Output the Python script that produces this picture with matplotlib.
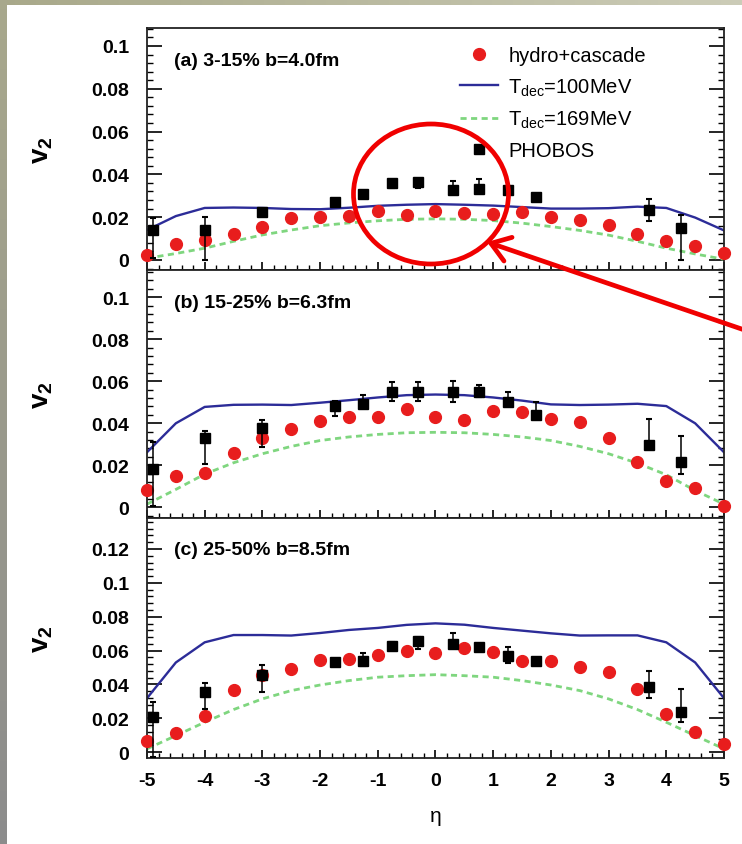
import numpy as np
import matplotlib
matplotlib.use('Agg')
import matplotlib.pyplot as plt
from matplotlib.patches import Ellipse, FancyArrowPatch
from matplotlib.lines import Line2D
from matplotlib.ticker import MultipleLocator, AutoMinorLocator, FuncFormatter

plt.rcParams['font.family'] = ['Liberation Sans', 'DejaVu Sans']
plt.rcParams['axes.unicode_minus'] = False
plt.rcParams['mathtext.fontset'] = 'custom'
plt.rcParams['mathtext.rm'] = 'Liberation Sans'
plt.rcParams['mathtext.bf'] = 'Liberation Sans:bold'
plt.rcParams['mathtext.it'] = 'Liberation Sans:italic'

# model curves, eta grid
eta = [-5, -4.5, -4, -3.5, -3, -2.5, -2, -1.5, -1, -0.5, 0,
       0.5, 1, 1.5, 2, 2.5, 3, 3.5, 4, 4.5, 5]

hydro_a = [0.0023, 0.0073, 0.0094, 0.0120, 0.0152, 0.0198, 0.0200, 0.0206, 0.0227, 0.0211, 0.0227,
           0.0219, 0.0214, 0.0223, 0.0200, 0.0188, 0.0164, 0.0122, 0.0089, 0.0063, 0.0031]
t100_a = [0.0140, 0.0205, 0.0243, 0.0245, 0.0243, 0.0238, 0.0237, 0.0244, 0.0253, 0.0258, 0.0261,
          0.0258, 0.0254, 0.0247, 0.0240, 0.0240, 0.0242, 0.0249, 0.0243, 0.0198, 0.0138]
t169_a = [0.0008, 0.0030, 0.0055, 0.0087, 0.0117, 0.0140, 0.0160, 0.0173, 0.0183, 0.0190, 0.0192,
          0.0190, 0.0184, 0.0172, 0.0156, 0.0138, 0.0116, 0.0087, 0.0055, 0.0028, 0.0003]

hydro_b = [0.0083, 0.0151, 0.0163, 0.0259, 0.0329, 0.0373, 0.0413, 0.0432, 0.0432, 0.0468, 0.0429,
           0.0417, 0.0460, 0.0452, 0.0421, 0.0405, 0.0329, 0.0217, 0.0127, 0.0090, 0.0008]
t100_b = [0.0262, 0.0400, 0.0478, 0.0488, 0.0489, 0.0487, 0.0498, 0.0510, 0.0523, 0.0534, 0.0537,
          0.0534, 0.0523, 0.0508, 0.0490, 0.0487, 0.0489, 0.0493, 0.0482, 0.0400, 0.0262]
t169_b = [0.0015, 0.0085, 0.0158, 0.0212, 0.0255, 0.0290, 0.0318, 0.0335, 0.0347, 0.0355, 0.0357,
          0.0355, 0.0347, 0.0335, 0.0318, 0.0290, 0.0255, 0.0210, 0.0155, 0.0080, 0.0015]

hydro_c = [0.0065, 0.0114, 0.0212, 0.0370, 0.0456, 0.0492, 0.0545, 0.0551, 0.0574, 0.0600, 0.0586,
           0.0614, 0.0590, 0.0541, 0.0537, 0.0506, 0.0472, 0.0374, 0.0226, 0.0122, 0.0049]
t100_c = [0.0319, 0.0530, 0.0649, 0.0692, 0.0692, 0.0689, 0.0704, 0.0722, 0.0734, 0.0752, 0.0761,
          0.0753, 0.0734, 0.0718, 0.0702, 0.0689, 0.0690, 0.0690, 0.0649, 0.0530, 0.0319]
t169_c = [0.0020, 0.0098, 0.0177, 0.0252, 0.0315, 0.0364, 0.0397, 0.0423, 0.0443, 0.0452, 0.0458,
          0.0452, 0.0443, 0.0423, 0.0397, 0.0364, 0.0315, 0.0252, 0.0177, 0.0098, 0.0020]

# PHOBOS data
eta_ph = [-4.9, -4.0, -3.0, -1.75, -1.25, -0.75, -0.3, 0.3, 0.75, 1.25, 1.75, 3.7, 4.25]

ph_a = [0.0141, 0.0141, 0.0225, 0.0272, 0.0310, 0.0360, 0.0363, 0.0325, 0.0333, 0.0325, 0.0294, 0.0234, 0.0148]
ph_a_lo = [0.0133, 0.0141, 0.0015, 0.0010, 0.0010, 0.0025, 0.0025, 0.0010, 0.0010, 0.0010, 0.0010, 0.0050, 0.0148]
ph_a_hi = [0.0054, 0.0062, 0.0015, 0.0010, 0.0010, 0.0010, 0.0010, 0.0045, 0.0045, 0.0020, 0.0015, 0.0053, 0.0060]

ph_b = [0.0183, 0.0329, 0.0376, 0.0481, 0.0492, 0.0548, 0.0548, 0.0548, 0.0551, 0.0503, 0.0441, 0.0298, 0.0214]
ph_b_lo = [0.0175, 0.0123, 0.0090, 0.0044, 0.0020, 0.0043, 0.0043, 0.0048, 0.0025, 0.0018, 0.0004, 0.0012, 0.0055]
ph_b_hi = [0.0127, 0.0036, 0.0041, 0.0027, 0.0043, 0.0047, 0.0047, 0.0055, 0.0030, 0.0048, 0.0062, 0.0122, 0.0127]

ph_c = [0.0207, 0.0358, 0.0456, 0.0531, 0.0541, 0.0626, 0.0659, 0.0639, 0.0620, 0.0571, 0.0537, 0.0384, 0.0240]
ph_c_lo = [0.0237, 0.0102, 0.0098, 0.0010, 0.0030, 0.0025, 0.0050, 0.0015, 0.0010, 0.0045, 0.0010, 0.0065, 0.0063]
ph_c_hi = [0.0090, 0.0052, 0.0059, 0.0010, 0.0045, 0.0025, 0.0020, 0.0065, 0.0010, 0.0050, 0.0010, 0.0098, 0.0134]

titles = ['(a) 3-15% b=4.0fm', '(b) 15-25% b=6.3fm', '(c) 25-50% b=8.5fm']
labels = ['hydro+cascade', r'T$_{\rm dec}$=100MeV', r'T$_{\rm dec}$=169MeV', 'PHOBOS']

RED = '#e81d1d'
BLUE = '#2c2c98'
GREEN = '#7fd67f'
DASH = (0, (2.2, 1.6))

W, H = 742, 845
fig = plt.figure(figsize=(W / 100, H / 100), dpi=100)

# slide background: white with grey/olive edges
bg = fig.add_axes([0, 0, 1, 1], zorder=-10)
img = np.ones((H, W, 3))
top = np.linspace(0, 1, W)[:, None]
img[:6, :, :] = (np.array([0.66, 0.66, 0.54]) * (1 - top) + np.array([0.80, 0.80, 0.72]) * top)[None, :, :]
side = np.linspace(0, 1, H)[:, None]
img[:, :7, :] = (np.array([0.66, 0.66, 0.55]) * (1 - side) + np.array([0.55, 0.55, 0.55]) * side)[:, None, :]
bg.imshow(img, aspect='auto', extent=(0, W, H, 0))
bg.axis('off')

# axes boxes in pixels: left, right, top, bottom
left, right = 147, 724
rows = [(29, 271), (271, 519), (519, 759)]
ylims = [(-0.0047, 0.1084), (-0.0051, 0.1130), (-0.0034, 0.1383)]

hydro = [hydro_a, hydro_b, hydro_c]
t100 = [t100_a, t100_b, t100_c]
t169 = [t169_a, t169_b, t169_c]
phob = [(ph_a, ph_a_lo, ph_a_hi), (ph_b, ph_b_lo, ph_b_hi), (ph_c, ph_c_lo, ph_c_hi)]


def fmt(v, pos):
    if abs(v) < 1e-9:
        return '0'
    return f'{v:g}'


axes = []
for i, (t, b) in enumerate(rows):
    ax = fig.add_axes([left / W, 1 - b / H, (right - left) / W, (b - t) / H])
    axes.append(ax)
    ax.set_xlim(-5, 5)
    ax.set_ylim(*ylims[i])

    ax.plot(eta, t100[i], color=BLUE, lw=1.7, zorder=2)
    ax.plot(eta, t169[i], color=GREEN, lw=2.0, ls=DASH, zorder=2)
    ax.plot(eta, hydro[i], 'o', color=RED, ms=8.5, mec=RED, zorder=3, clip_on=False)
    v, lo, hi = phob[i]
    ax.errorbar(eta_ph, v, yerr=[lo, hi], fmt='s', color='black', ms=7, elinewidth=1.1,
                capsize=2.5, capthick=1.5, zorder=4)

    ax.text(0.047, 1 - 32 / (b - t), titles[i], transform=ax.transAxes, fontsize=14,
            fontweight='bold', va='center', ha='left')

    ax.xaxis.set_major_locator(MultipleLocator(1))
    ax.xaxis.set_minor_locator(AutoMinorLocator(5))
    ax.yaxis.set_major_locator(MultipleLocator(0.02))
    ax.yaxis.set_minor_locator(AutoMinorLocator(5))
    ax.yaxis.set_major_formatter(FuncFormatter(fmt))
    ax.xaxis.set_major_formatter(FuncFormatter(fmt))
    ax.tick_params(axis='y', which='major', direction='in', length=11, width=1.2,
                   left=True, right=True, pad=13, labelsize=14)
    ax.tick_params(axis='y', which='minor', direction='in', length=4.5, width=1,
                   left=True, right=True)
    ax.tick_params(axis='x', which='major', direction='in', length=6, width=1.2,
                   top=False, pad=10, labelsize=14)
    ax.tick_params(axis='x', which='minor', direction='in', length=3.5, width=1, top=False)
    for lab in ax.get_xticklabels() + ax.get_yticklabels():
        lab.set_fontweight('bold')
    if i < 2:
        ax.tick_params(axis='x', labelbottom=False)
    for s in ax.spines.values():
        s.set_linewidth(1.3)
        s.set_color('#222222')

    ax.set_ylabel(r'$\mathbf{v_2}$', fontsize=20, rotation=90)
    ax.yaxis.set_label_coords(-0.16, 0.5)

axes[2].set_xlabel('η', fontsize=15)
axes[2].xaxis.labelpad = 12

handles = [Line2D([], [], marker='o', ls='none', color=RED, ms=8.5),
           Line2D([], [], color=BLUE, lw=1.7),
           Line2D([], [], color=GREEN, lw=2.0, ls=DASH),
           Line2D([], [], marker='s', ls='none', color='black', ms=7)]
axes[0].legend(handles, labels, loc='upper left', bbox_to_anchor=(0.5425, 0.925),
               frameon=False, fontsize=14.5, handlelength=1.9, handletextpad=0.5,
               labelspacing=0.55, borderaxespad=0, borderpad=0)

# red highlight ellipse and arrow
fig.add_artist(Ellipse((431 / W, 1 - 195 / H), 155 / W, 140 / H, transform=fig.transFigure,
                       fill=False, ec='#f00000', lw=3.4, zorder=20))
fig.add_artist(FancyArrowPatch((765 / W, 1 - 338 / H), (487 / W, 1 - 243 / H),
                               transform=fig.transFigure, arrowstyle='->,head_length=13,head_width=9',
                               mutation_scale=1, color='#f00000', lw=3.4, shrinkA=0, shrinkB=0,
                               zorder=20))

plt.savefig('out.png', dpi=100)
